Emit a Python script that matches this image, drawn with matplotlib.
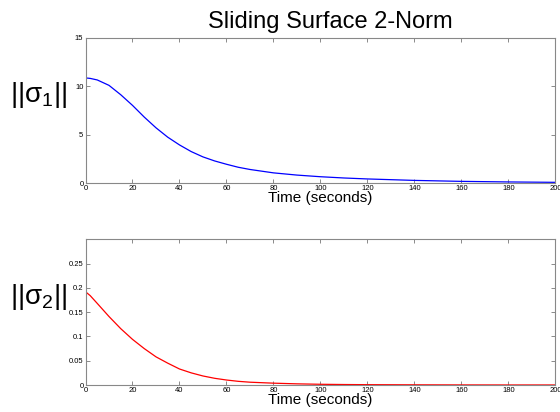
import numpy as np
import matplotlib
matplotlib.use("Agg")
import matplotlib.pyplot as plt

plt.rcParams['font.family'] = ['Liberation Sans', 'DejaVu Sans']
plt.rcParams['mathtext.fontset'] = 'custom'
plt.rcParams['mathtext.rm'] = 'Liberation Sans'
plt.rcParams['mathtext.it'] = 'Liberation Sans'
plt.rcParams['mathtext.default'] = 'regular'

# time samples (seconds) and the two norms
t = [0, 2, 5, 10, 15, 20, 25, 30, 35, 40, 45, 50, 55, 60, 65,
     70, 80, 90, 100, 110, 120, 140, 160, 180, 200]
sigma1 = [10.87, 10.82, 10.66, 10.1, 9.13, 8.03, 6.82, 5.71, 4.74, 3.94, 3.25,
          2.7, 2.28, 1.94, 1.63, 1.4, 1.05, 0.82, 0.65, 0.52, 0.42, 0.27,
          0.17, 0.11, 0.07]
sigma2 = [0.192, 0.184, 0.168, 0.141, 0.116, 0.094, 0.075, 0.058, 0.045, 0.033,
          0.025, 0.0186, 0.0138, 0.0103, 0.0076, 0.0058, 0.0038, 0.0024,
          0.0015, 0.001, 0.0007, 0.0004, 0.0002, 0.0001, 0.0001]

xticks = np.arange(0, 201, 20)
yticks1 = [0, 5, 10, 15]
yticks2 = [0, 0.05, 0.1, 0.15, 0.2, 0.25]

fig = plt.figure(figsize=(5.6, 4.12), dpi=100)
ax1 = fig.add_axes([0.1527, 0.5558, 0.839, 0.352])
ax2 = fig.add_axes([0.1527, 0.0655, 0.839, 0.3537])


def style(ax):
    ax.set_xlim(0, 200)
    ax.set_xticks(xticks)
    ax.tick_params(direction='in', length=3, width=0.6, color='#777777',
                   labelsize=5.5, pad=1.5, top=True, right=True)
    for s in ax.spines.values():
        s.set_color('#888888')
        s.set_linewidth(0.8)
    ax.set_xlabel('Time (seconds)', fontsize=11, labelpad=-1)


ax1.plot(t, sigma1, color='#0000ff', lw=0.9)
ax1.set_ylim(0, 15)
ax1.set_yticks(yticks1)
style(ax1)
ax1.set_title('Sliding Surface 2-Norm', fontsize=17, pad=7, x=0.52)
ax1.set_ylabel(r'||σ$_1$||', fontsize=20, rotation=0, labelpad=0)
ax1.yaxis.set_label_coords(-0.1, 0.5)

ax2.plot(t, sigma2, color='#ff0000', lw=0.9)
ax2.set_ylim(0, 0.3)
ax2.set_yticks(yticks2)
ax2.set_yticklabels(['0', '0.05', '0.1', '0.15', '0.2', '0.25'])
style(ax2)
ax2.set_ylabel(r'||σ$_2$||', fontsize=20, rotation=0, labelpad=0)
ax2.yaxis.set_label_coords(-0.1, 0.5)

fig.savefig('out.png', dpi=100)
